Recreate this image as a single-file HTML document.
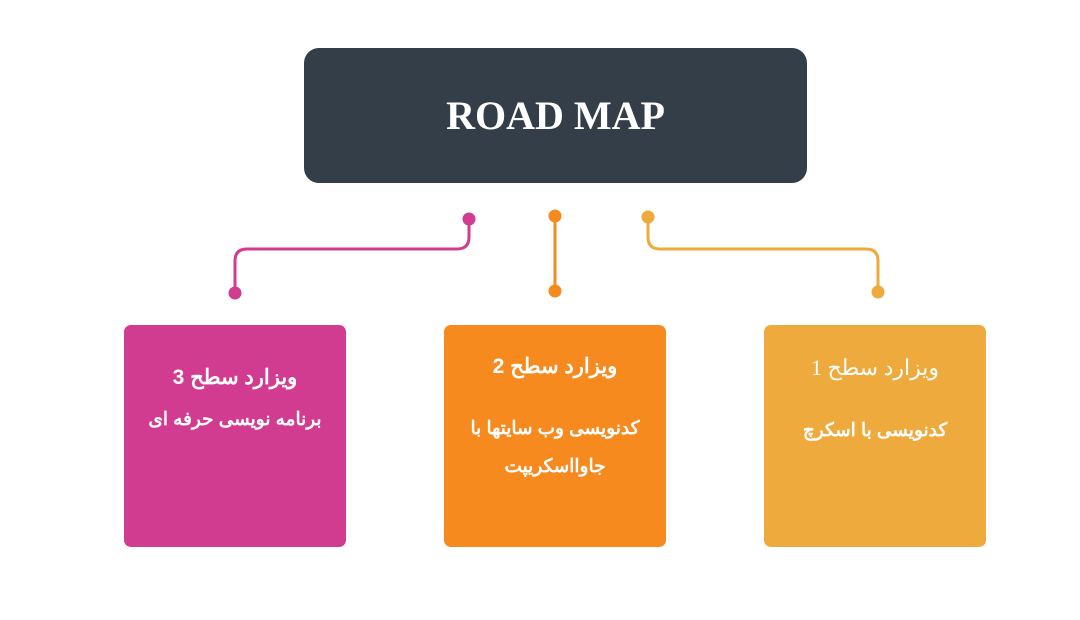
<!DOCTYPE html>
<html><head><meta charset="utf-8"><style>
html,body{margin:0;padding:0;background:#fff;}
body{width:1080px;height:620px;position:relative;overflow:hidden;font-family:"Liberation Sans","Noto Sans CJK SC",sans-serif;}
.t{position:absolute;left:304px;top:48px;width:503px;height:135px;background:#343e48;border-radius:15px;color:#fff;font-family:"Liberation Serif",serif;font-weight:bold;font-size:40px;text-align:center;line-height:135px;}
.b{position:absolute;top:325px;width:222px;height:222px;border-radius:7px;color:#fff;text-align:center;}
.l{position:absolute;left:0;width:100%;text-align:center;direction:rtl;white-space:nowrap;}
</style></head><body>
<div class="t">ROAD MAP</div>
<svg width="1080" height="620" style="position:absolute;left:0;top:0">
<g fill="none" stroke-width="3">
<path d="M469 219 V237 Q469 249 457 249 H247 Q235 249 235 261 V293" stroke="#d13c91"/>
<path d="M555 216 V291" stroke="#f68a1f"/>
<path d="M648 217 V237 Q648 249 660 249 H866 Q878 249 878 261 V292" stroke="#eeaa3c"/>
</g>
<circle cx="469" cy="219" r="6.5" fill="#d13c91"/><circle cx="235" cy="293" r="6.5" fill="#d13c91"/>
<circle cx="555" cy="216" r="6.5" fill="#f68a1f"/><circle cx="555" cy="291" r="6.5" fill="#f68a1f"/>
<circle cx="648" cy="217" r="6.5" fill="#eeaa3c"/><circle cx="878" cy="292" r="6.5" fill="#eeaa3c"/>
</svg>
<div class="b" style="left:124px;background:#d13c91">
<div class="l" style="top:40px;font-size:21px;font-weight:bold">ویزارد سطح 3</div>
<div class="l" style="top:83px;font-size:18.5px;font-weight:bold">برنامه نویسی حرفه ای</div>
</div>
<div class="b" style="left:444px;background:#f68a1f">
<div class="l" style="top:29px;font-size:21px;font-weight:bold">ویزارد سطح 2</div>
<div class="l" style="top:92px;font-size:18.5px;font-weight:bold">کدنویسی وب سایتها با</div>
<div class="l" style="top:130px;font-size:18.5px;font-weight:bold">جاوااسکریپت</div>
</div>
<div class="b" style="left:764px;background:#eeaa3c">
<div class="l" style="top:30px;font-size:22px;font-family:'Liberation Serif','Noto Serif CJK SC',serif">ویزارد سطح 1</div>
<div class="l" style="top:94px;font-size:18.5px;font-weight:bold">کدنویسی با اسکرچ</div>
</div>
</body></html>
